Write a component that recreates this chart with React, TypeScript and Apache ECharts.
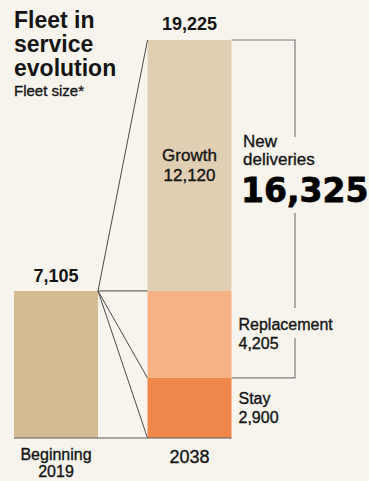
import React, { useEffect, useRef } from "react";
import * as echarts from "echarts";

const categories = ["Beginning\n2019", "2038"];
const beginningValues: (number | string)[] = [7105, "-"];
const stayValues: (number | string)[] = ["-", 2900];
const replacementValues: (number | string)[] = ["-", 4205];
const growthValues: (number | string)[] = ["-", 12120];
const segmentNames = ["Stay", "Replacement", "Growth"];

const BG = "#f7f4ee";
const TEXT = "#141414";
const FONT = "'Liberation Sans', Arial, Helvetica, sans-serif";
const MED = { textBorderColor: TEXT, textBorderWidth: 0.35 };

const fmt = (v: number) => String(Math.round(v)).replace(/\B(?=(\d{3})+(?!\d))/g, ",");

export default function App() {
  const ref = useRef<HTMLDivElement>(null);
  useEffect(() => {
    if (!ref.current) return;
    const chart = echarts.init(ref.current, undefined, { renderer: "svg" });
    const stay = stayValues[1] as number;
    const repl = replacementValues[1] as number;
    const growth = growthValues[1] as number;
    const total2038 = stay + repl + growth;
    const newDeliveries = repl + growth;
    const begin = beginningValues[0] as number;
    const BAR_W = 84;

    const sideLabel = {
      show: true,
      position: "right",
      distance: 7,
      align: "left",
      fontFamily: FONT,
      fontSize: 16,
      lineHeight: 19,
      color: TEXT,
      ...MED,
      formatter: (p: any) => `${p.seriesName}\n${fmt(p.value)}`,
    };

    const barBase = { type: "bar", stack: "fleet", barWidth: BAR_W, clip: false };

    chart.setOption({
      animation: false,
      backgroundColor: BG,
      grid: { left: 56, right: 179.5, top: 40, bottom: 43 },
      xAxis: {
        type: "category",
        data: categories,
        boundaryGap: false,
        axisLine: { show: false },
        axisTick: { show: false },
        splitLine: { show: false },
        axisLabel: {
          margin: 8,
          interval: 0,
          color: TEXT,
          fontFamily: FONT,
          formatter: (v: string, i: number) => (i === 0 ? `{a|${v}}` : `{b|${v}}`),
          rich: {
            a: { fontSize: 16, lineHeight: 17, fontFamily: FONT, color: TEXT, align: "center", ...MED },
            b: { fontSize: 18, lineHeight: 22, fontFamily: FONT, color: TEXT, ...MED },
          },
        },
      },
      yAxis: { type: "value", min: 0, max: total2038, show: false, splitLine: { show: false } },
      series: [
        {
          ...barBase,
          name: "Beginning",
          data: beginningValues,
          itemStyle: { color: "#d3bb92" },
          label: {
            show: true,
            position: "top",
            distance: 6,
            fontFamily: FONT,
            fontSize: 18,
            fontWeight: "bold",
            color: TEXT,
            formatter: (p: any) => fmt(p.value),
          },
        },
        {
          ...barBase,
          name: segmentNames[0],
          data: stayValues,
          itemStyle: { color: "#f0874a" },
          label: sideLabel,
        },
        {
          ...barBase,
          name: segmentNames[1],
          data: replacementValues,
          itemStyle: { color: "#f6b184" },
          label: sideLabel,
        },
        {
          ...barBase,
          name: segmentNames[2],
          data: growthValues,
          itemStyle: { color: "#e0cfb2" },
          label: {
            show: true,
            position: "inside",
            fontFamily: FONT,
            fontSize: 17,
            lineHeight: 20,
            color: TEXT,
            ...MED,
            formatter: (p: any) => `${p.seriesName}\n${fmt(p.value)}`,
          },
        },
      ],
    });

    const px = (cat: number, v: number) =>
      chart.convertToPixel({ xAxisIndex: 0, yAxisIndex: 0 }, [cat, v]) as number[];
    const half = BAR_W / 2;
    const [lx, yBegin] = px(0, begin);
    const [rx, yTop] = px(1, total2038);
    const yZero = px(1, 0)[1];
    const yStay = px(1, stay)[1];
    const yRepl = px(1, stay + repl)[1];
    const leftRight = lx + half;
    const rightLeft = rx - half;
    const rightRight = rx + half;
    const bx = 295;

    const conn = (y: number) => ({
      type: "line",
      shape: { x1: leftRight, y1: yBegin, x2: rightLeft, y2: y },
      style: { stroke: "#4a4a4a", lineWidth: 1 },
      z: 10,
    });

    chart.setOption({
      graphic: [
        {
          type: "text",
          left: 14,
          top: 8,
          style: {
            text: "Fleet in\nservice\nevolution",
            fontFamily: FONT,
            fontSize: 23,
            fontWeight: "bold",
            lineHeight: 24,
            fill: TEXT,
          },
        },
        {
          type: "text",
          x: 14,
          y: 90.5,
          style: {
            text: "Fleet size*",
            fontFamily: FONT,
            fontSize: 15,
            fill: TEXT,
            stroke: TEXT,
            lineWidth: 0.35,
            verticalAlign: "middle",
          },
        },
        {
          type: "text",
          x: rx,
          y: yTop - 16.5,
          style: {
            text: fmt(total2038),
            fontFamily: FONT,
            fontSize: 18,
            fontWeight: "bold",
            fill: TEXT,
            align: "center",
            verticalAlign: "middle",
          },
        },
        conn(yTop),
        conn(yRepl),
        conn(yStay),
        conn(yZero),
        {
          type: "line",
          shape: { x1: lx - half, y1: yZero, x2: rightRight, y2: yZero },
          style: { stroke: "#5a5a5a", lineWidth: 1 },
          z: 10,
        },
        {
          type: "polyline",
          shape: { points: [[rightRight, yTop], [bx, yTop], [bx, 137]] },
          style: { stroke: "#7d7d7d", lineWidth: 1.2, fill: "none" },
        },
        {
          type: "line",
          shape: { x1: bx, y1: 213, x2: bx, y2: 308 },
          style: { stroke: "#7d7d7d", lineWidth: 1.2 },
        },
        {
          type: "polyline",
          shape: { points: [[bx, 338], [bx, yStay], [rightRight, yStay]] },
          style: { stroke: "#7d7d7d", lineWidth: 1.2, fill: "none" },
        },
        {
          type: "text",
          x: 243,
          y: 132,
          style: {
            text: "New\ndeliveries",
            fontFamily: FONT,
            fontSize: 17,
            lineHeight: 18,
            fill: TEXT,
            stroke: TEXT,
            lineWidth: 0.35,
          },
        },
        {
          type: "text",
          x: 241,
          y: 190.5,
          style: {
            text: fmt(newDeliveries),
            fontFamily: "'DejaVu Sans', sans-serif",
            fontSize: 33,
            fontWeight: "bold",
            fill: "#000",
            stroke: "#000",
            lineWidth: 0.8,
            verticalAlign: "middle",
          },
        },
      ],
    });

    return () => chart.dispose();
  }, []);

  return (
    <div
      ref={ref}
      style={{ position: "fixed", left: 0, top: 0, width: 369, height: 481, background: BG }}
    />
  );
}
